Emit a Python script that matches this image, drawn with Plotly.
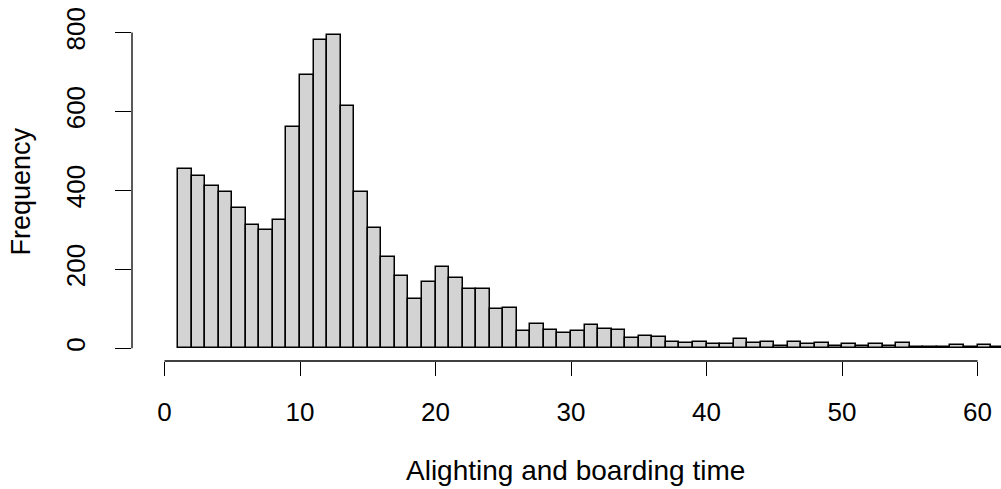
import plotly.graph_objects as go

# Histogram bins (left edges, width 1) and counts
bin_left = list(range(1, 62))
counts = [455, 436, 412, 397, 355, 313, 300, 324, 560, 693,
          782, 795, 615, 397, 304, 232, 182, 124, 168, 207,
          179, 150, 150, 100, 103, 45, 62, 46, 38, 45,
          60, 48, 46, 27, 30, 28, 17, 14, 17, 11,
          11, 23, 14, 17, 6, 15, 11, 13, 6, 10,
          6, 10, 6, 14, 3, 3, 3, 8, 3, 8, 3]
bin_width = 1
x_ticks = [0, 10, 20, 30, 40, 50, 60]
y_ticks = [0, 200, 400, 600, 800]
x_title = "Alighting and boarding time"
y_title = "Frequency"

FONT = "Liberation Sans, Arial, sans-serif"
W, H = 1001, 489
L, R, T, B = 132, 0, 22, 128

fig = go.Figure()
fig.add_trace(go.Bar(
    x=[b + bin_width / 2 for b in bin_left],
    y=counts,
    width=bin_width,
    marker=dict(color="#D3D3D3", line=dict(color="black", width=1.5)),
    showlegend=False,
))

# R-style axis lines spanning first..last tick only
fig.add_shape(type="line", xref="x", yref="paper", x0=x_ticks[0], x1=x_ticks[-1],
              y0=0, y1=0, line=dict(color="black", width=1.3))
fig.add_shape(type="line", xref="paper", yref="y", x0=0, x1=0,
              y0=y_ticks[0], y1=y_ticks[-1], line=dict(color="black", width=1.3))

fig.update_layout(
    width=W, height=H,
    margin=dict(l=L, r=R, t=T, b=B),
    paper_bgcolor="white", plot_bgcolor="white",
    font=dict(family=FONT, size=26, color="black"),
    bargap=0,
    xaxis=dict(range=[-2.40, 61.73], tickvals=x_ticks, ticks="outside", ticklen=14,
               tickwidth=1.3, tickcolor="black", showgrid=False, zeroline=False,
               showline=False, ticklabelstandoff=14,
               tickfont=dict(family=FONT, size=26, color="black")),
    yaxis=dict(range=[-32.2, 826.8], tickvals=y_ticks, ticks="outside", ticklen=16,
               tickwidth=1.3, tickcolor="black", showgrid=False, zeroline=False,
               showline=False, tickangle=-90, ticklabelstandoff=20,
               tickfont=dict(family=FONT, size=26, color="black")),
    annotations=[
        dict(text=x_title, xref="paper", yref="paper", x=(575 - L) / (W - L - R),
             y=0, yshift=-109, showarrow=False, xanchor="center", yanchor="middle",
             font=dict(family=FONT, size=28, color="black")),
        dict(text=y_title, xref="paper", yref="paper", x=0, xshift=-112, y=0.5,
             textangle=-90, showarrow=False, xanchor="center", yanchor="middle",
             font=dict(family=FONT, size=27, color="black")),
    ],
)

fig.write_html("out.html", config={"displayModeBar": False},
               post_script="document.body.style.margin='0';document.body.style.overflow='hidden';")
